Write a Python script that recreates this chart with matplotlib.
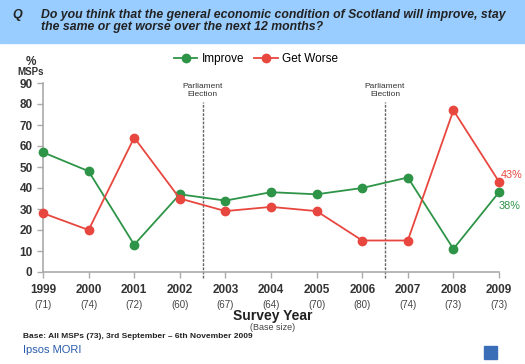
import matplotlib
matplotlib.use("Agg")
import matplotlib.pyplot as plt
from matplotlib.patches import Rectangle

plt.rcParams['font.family'] = ['Liberation Sans', 'DejaVu Sans']

# 数据
years = [1999, 2000, 2001, 2002, 2003, 2004, 2005, 2006, 2007, 2008, 2009]
base_sizes = [71, 74, 72, 60, 67, 64, 70, 80, 74, 73, 73]
improve = [57, 48, 13, 37, 34, 38, 37, 40, 45, 11, 38]
get_worse = [28, 20, 64, 35, 29, 31, 29, 15, 15, 77, 43]
elections = [2002.5, 2006.5]

GREEN = "#2e9447"
RED = "#e8473f"
W, H = 525, 364
PT = 72 / 100  # 像素转磅

fig = plt.figure(figsize=(W / 100, H / 100), dpi=100)


def fx(px):
    return px / W


def fy(py):
    return 1 - py / H


# 标题栏
fig.patches.append(Rectangle((0, fy(43)), 1, 43 / H, transform=fig.transFigure,
                             color="#99ccff", zorder=0))
fig.text(fx(12), fy(15), "Q", fontsize=9, fontweight="bold", style="italic",
         color="#222222", va="center")
fig.text(fx(41), fy(21),
         "Do you think that the general economic condition of Scotland will improve, stay\n"
         "the same or get worse over the next 12 months?",
         fontsize=8.8, fontweight="bold", style="italic", color="#222222",
         va="center", linespacing=0.95)

# 主图
ax = fig.add_axes((fx(43), fy(272), fx(499) - fx(43), fy(83) - fy(272)))
ax.plot(years, improve, color=GREEN, marker="o", markersize=6, lw=1.3,
        label="Improve", clip_on=False, zorder=3)
ax.plot(years, get_worse, color=RED, marker="o", markersize=6, lw=1.3,
        label="Get Worse", clip_on=False, zorder=3)
ax.set_xlim(1999, 2009)
ax.set_ylim(0, 90)
ax.set_yticks(range(0, 91, 10))
ax.set_xticks(years)
ax.set_xticklabels([""] * len(years))
for s in ["top", "right"]:
    ax.spines[s].set_visible(False)
for s in ["left", "bottom"]:
    ax.spines[s].set_color("#aaaaaa")
    ax.spines[s].set_linewidth(1.2)
ax.tick_params(axis="both", color="#aaaaaa", length=4, width=1)
ax.tick_params(axis="x", direction="out")
for lbl in ax.get_yticklabels():
    lbl.set_fontweight("bold")
    lbl.set_fontsize(8.5)
    lbl.set_color("#333333")

for yr, n in zip(years, base_sizes):
    ax.annotate(str(yr), (yr, 0), xytext=(0, -18 * PT), textcoords="offset points",
                ha="center", va="center", fontsize=8.5, fontweight="bold",
                color="#333333", annotation_clip=False)
    ax.annotate(f"({n})", (yr, 0), xytext=(0, -33 * PT), textcoords="offset points",
                ha="center", va="center", fontsize=7, color="#444444",
                annotation_clip=False)

for x in elections:
    ax.plot([x, x], [-3, 81], color="#666666", lw=1, ls=(0, (2, 1)),
            clip_on=False, zorder=2)
    ax.text(x, 86.5, "Parliament\nElection", ha="center", va="center",
            fontsize=6, color="#333333", linespacing=1.3)

ax.annotate(f"{get_worse[-1]}%", (years[-1], get_worse[-1]), xytext=(1, 5),
            textcoords="offset points", color=RED, fontsize=7.8, ha="left",
            va="center", annotation_clip=False)
ax.annotate(f"{improve[-1]}%", (years[-1], improve[-1]), xytext=(0, -10),
            textcoords="offset points", color=GREEN, fontsize=7.8, ha="left",
            va="center", annotation_clip=False)

fig.legend(loc="center", bbox_to_anchor=(fx(256), fy(59)), ncol=2, frameon=False,
           fontsize=8.5, handlelength=2, columnspacing=0.8, handletextpad=0.4)

# 轴标签
fig.text(fx(31), fy(62), "%", fontsize=8.5, fontweight="bold", ha="center",
         va="center", color="#333333")
fig.text(fx(31), fy(72), "MSPs", fontsize=7, fontweight="bold", ha="center",
         va="center", color="#333333")
fig.text(fx(273), fy(316), "Survey Year", fontsize=10, fontweight="bold",
         ha="center", va="center", color="#222222")
fig.text(fx(273), fy(328), "(Base size)", fontsize=6.5, ha="center", va="center",
         color="#444444")

# 页脚
fig.text(fx(23), fy(337), "Base: All MSPs (73), 3rd September \u2013 6th November 2009",
         fontsize=6, fontweight="bold", va="center", color="#222222")
fig.text(fx(23), fy(350), "Ipsos MORI", fontsize=8, va="center", color="#2a5caa")
fig.patches.append(Rectangle((fx(484), fy(359)), 13 / W, 13 / H,
                             transform=fig.transFigure, color="#3a6fb8", zorder=1))

fig.savefig("out.png", dpi=100)
